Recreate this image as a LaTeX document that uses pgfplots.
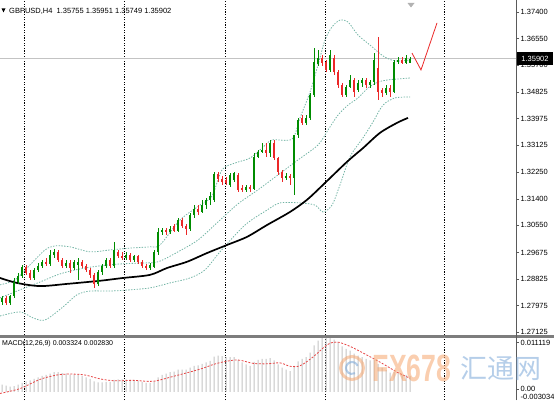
\documentclass[border=0pt]{standalone}
\usepackage{pgfplots}
\pgfplotsset{compat=1.18}
\usepackage{pgfplotstable}
\usepackage{fontspec}
\setmainfont{Liberation Sans}
\newfontfamily\cjk{Noto Sans CJK SC}
\definecolor{cgreen}{RGB}{0,140,0}
\definecolor{cred}{RGB}{235,40,40}
\definecolor{bband}{RGB}{115,180,165}
\definecolor{pline}{RGB}{195,195,195}
\definecolor{histc}{RGB}{195,195,195}
\definecolor{sig}{RGB}{230,70,70}
\definecolor{axgray}{RGB}{90,90,90}
\definecolor{sepgray}{RGB}{125,125,125}
\definecolor{wmorange}{RGB}{245,165,110}
\definecolor{wmblue}{RGB}{120,165,215}

\pgfplotstableread{
x o h l c
2 1.2809 1.2828 1.2799 1.2822
6 1.2822 1.2828 1.2799 1.2806
10 1.2806 1.2832 1.2799 1.2828
14 1.2828 1.2886 1.2822 1.2873
18 1.2873 1.2902 1.2867 1.2893
22 1.2893 1.2928 1.2886 1.2921
26 1.2921 1.2928 1.2896 1.2902
30 1.2902 1.2912 1.2880 1.2886
34 1.2886 1.2918 1.2880 1.2912
38 1.2912 1.2934 1.2905 1.2925
42 1.2925 1.2944 1.2918 1.2938
46 1.2938 1.2950 1.2925 1.2931
50 1.2931 1.2976 1.2925 1.2960
54 1.2960 1.2979 1.2950 1.2970
58 1.2970 1.2976 1.2938 1.2944
62 1.2944 1.2950 1.2918 1.2925
66 1.2925 1.2944 1.2918 1.2934
70 1.2934 1.2944 1.2902 1.2918
74 1.2918 1.2944 1.2912 1.2938
78 1.2928 1.2950 1.2880 1.2938
82 1.2938 1.2944 1.2918 1.2925
86 1.2925 1.2931 1.2905 1.2912
90 1.2912 1.2918 1.2886 1.2896
94 1.2896 1.2902 1.2854 1.2867
98 1.2867 1.2912 1.2860 1.2905
102 1.2905 1.2931 1.2896 1.2925
106 1.2925 1.2950 1.2918 1.2944
110 1.2944 1.2950 1.2918 1.2925
114 1.2925 1.3002 1.2918 1.2976
118 1.2970 1.2976 1.2950 1.2957
122 1.2957 1.2970 1.2944 1.2950
126 1.2950 1.2970 1.2944 1.2960
130 1.2960 1.2966 1.2938 1.2944
134 1.2944 1.2960 1.2938 1.2957
138 1.2957 1.2960 1.2931 1.2938
142 1.2938 1.2944 1.2918 1.2925
146 1.2925 1.2931 1.2912 1.2918
150 1.2918 1.2934 1.2912 1.2928
154 1.2921 1.2976 1.2918 1.2970
158 1.2970 1.3047 1.2960 1.3034
162 1.3034 1.3047 1.3024 1.3040
166 1.3040 1.3047 1.3024 1.3034
170 1.3034 1.3053 1.3027 1.3043
174 1.3053 1.3059 1.3034 1.3037
178 1.3037 1.3079 1.3034 1.3072
182 1.3072 1.3079 1.3047 1.3053
186 1.3053 1.3059 1.3024 1.3043
190 1.3043 1.3095 1.3037 1.3088
194 1.3088 1.3120 1.3079 1.3108
198 1.3108 1.3120 1.3088 1.3098
202 1.3098 1.3137 1.3095 1.3120
206 1.3120 1.3143 1.3108 1.3137
210 1.3137 1.3162 1.3120 1.3149
214 1.3137 1.3226 1.3130 1.3220
218 1.3220 1.3226 1.3194 1.3204
222 1.3204 1.3214 1.3185 1.3194
226 1.3201 1.3210 1.3185 1.3191
230 1.3185 1.3223 1.3178 1.3217
234 1.3201 1.3226 1.3194 1.3223
238 1.3217 1.3223 1.3162 1.3169
242 1.3175 1.3185 1.3162 1.3169
246 1.3169 1.3185 1.3162 1.3178
250 1.3178 1.3185 1.3162 1.3172
254 1.3172 1.3287 1.3169 1.3275
258 1.3275 1.3297 1.3271 1.3291
262 1.3291 1.3320 1.3287 1.3297
266 1.3297 1.3320 1.3275 1.3287
270 1.3287 1.3329 1.3275 1.3320
274 1.3320 1.3329 1.3265 1.3271
278 1.3271 1.3275 1.3217 1.3226
282 1.3226 1.3233 1.3194 1.3207
286 1.3207 1.3223 1.3201 1.3214
290 1.3214 1.3220 1.3185 1.3207
294 1.3207 1.3345 1.3153 1.3345
298 1.3345 1.3400 1.3336 1.3393
302 1.3400 1.3409 1.3377 1.3384
306 1.3384 1.3409 1.3377 1.3400
310 1.3400 1.3480 1.3393 1.3474
314 1.3474 1.3624 1.3467 1.3580
318 1.3573 1.3618 1.3567 1.3592
322 1.3592 1.3602 1.3567 1.3576
326 1.3580 1.3586 1.3547 1.3554
330 1.3554 1.3618 1.3547 1.3602
334 1.3592 1.3602 1.3538 1.3547
338 1.3547 1.3554 1.3496 1.3506
342 1.3506 1.3512 1.3467 1.3474
346 1.3474 1.3506 1.3467 1.3499
350 1.3499 1.3538 1.3496 1.3522
354 1.3522 1.3528 1.3467 1.3483
358 1.3490 1.3522 1.3483 1.3512
362 1.3512 1.3528 1.3499 1.3522
366 1.3522 1.3528 1.3496 1.3506
370 1.3506 1.3522 1.3496 1.3515
374 1.3515 1.3608 1.3506 1.3586
378 1.3560 1.3660 1.3457 1.3483
382 1.3490 1.3496 1.3467 1.3480
386 1.3480 1.3506 1.3474 1.3496
390 1.3496 1.3506 1.3467 1.3483
394 1.3483 1.3586 1.3480 1.3580
398 1.3580 1.3596 1.3573 1.3586
402 1.3586 1.3596 1.3573 1.3576
406 1.3576 1.3602 1.3573 1.3592
410 1.35755 1.35951 1.35749 1.35902
}\candles

\pgfplotstableread{
x y
0 1.2864
15 1.2880
30 1.2928
45 1.2976
55 1.2989
70 1.2986
90 1.2970
110 1.2976
130 1.2982
150 1.2986
160 1.2992
180 1.3072
200 1.3120
212 1.3149
222 1.3233
235 1.3255
250 1.3271
262 1.3303
272 1.3329
292 1.3332
300 1.3400
310 1.3483
318 1.3570
325 1.3650
332 1.3692
340 1.3714
348 1.3708
358 1.3666
370 1.3634
383 1.3599
395 1.3583
410 1.3586
}\bbup

\pgfplotstableread{
x y
0 1.2822
20 1.2848
40 1.2873
60 1.2899
80 1.2915
100 1.2925
120 1.2931
140 1.2934
158 1.2938
178 1.2970
198 1.3008
218 1.3066
238 1.3124
258 1.3169
278 1.3217
298 1.3265
318 1.3313
328 1.3361
338 1.3409
348 1.3441
358 1.3464
368 1.3496
378 1.3515
388 1.3522
398 1.3525
410 1.3528
}\bbmid

\pgfplotstableread{
x y
0 1.2764
20 1.2777
33 1.2758
45 1.2751
63 1.2793
77 1.2832
90 1.2844
110 1.2844
130 1.2848
150 1.2854
170 1.2870
190 1.2886
205 1.2912
220 1.2970
245 1.3056
267 1.3104
280 1.3127
300 1.3127
315 1.3120
323 1.3098
332 1.3120
340 1.3185
350 1.3275
363 1.3336
373 1.3387
383 1.3441
395 1.3464
410 1.3467
}\bblow

\pgfplotstableread{
x y
0 1.2886
17 1.2870
40 1.2860
67 1.2867
100 1.2877
123 1.2886
150 1.2896
167 1.2918
187 1.2938
207 1.2966
227 1.2992
247 1.3018
267 1.3056
290 1.3098
307 1.3137
323 1.3185
347 1.3259
363 1.3303
380 1.3352
397 1.3384
408 1.3400
}\matable

\pgfplotstableread{
x y
2 0.0015
6 0.0013
10 0.0011
14 0.0012
18 0.0015
22 0.0019
26 0.0022
30 0.0024
34 0.0027
38 0.0030
42 0.0033
46 0.0035
50 0.0038
54 0.0041
58 0.0041
62 0.0039
66 0.0038
70 0.0036
74 0.0036
78 0.0035
82 0.0033
86 0.0030
90 0.0027
94 0.0022
98 0.0020
102 0.0020
106 0.0021
110 0.0021
114 0.0025
118 0.0026
122 0.0026
126 0.0026
130 0.0025
134 0.0025
138 0.0023
142 0.0021
146 0.0019
150 0.0019
154 0.0022
158 0.0030
162 0.0035
166 0.0038
170 0.0041
174 0.0042
178 0.0046
182 0.0046
186 0.0046
190 0.0050
194 0.0054
198 0.0055
202 0.0058
206 0.0061
210 0.0064
214 0.0073
218 0.0075
222 0.0074
226 0.0072
230 0.0072
234 0.0072
238 0.0066
242 0.0061
246 0.0057
250 0.0054
254 0.0062
258 0.0066
262 0.0068
266 0.0068
270 0.0070
274 0.0065
278 0.0057
282 0.0050
286 0.0046
290 0.0043
294 0.0054
298 0.0063
302 0.0068
306 0.0072
310 0.0081
314 0.0096
318 0.0106
322 0.0111
326 0.0111
330 0.0112
334 0.0108
338 0.0102
342 0.0094
346 0.0089
350 0.0085
354 0.0079
358 0.0075
362 0.0072
366 0.0068
370 0.0065
374 0.0066
378 0.0058
382 0.0050
386 0.0045
390 0.0040
394 0.0041
398 0.0039
402 0.0036
406 0.0035
410 0.003324
}\machist

\pgfplotstableread{
x y
0 -0.0003
20 0.0007
40 0.0026
57 0.0035
70 0.0037
85 0.0035
100 0.0027
115 0.0023
133 0.0024
153 0.0022
173 0.0032
200 0.0047
217 0.0059
237 0.0066
253 0.0059
267 0.0058
280 0.0060
290 0.0053
300 0.0054
313 0.0072
327 0.0097
337 0.0103
350 0.0094
367 0.0076
383 0.0058
397 0.0041
410 0.00283
}\macsig

\newcommand\lbl{\fontsize{7.5}{8}\selectfont}

\begin{document}
\begin{tikzpicture}[x=1pt,y=1pt]
\useasboundingbox (0pt,0pt) rectangle (554pt,400pt);
\begin{axis}[
  at={(0pt,65pt)}, anchor=south west, scale only axis,
  width=516pt, height=335pt,
  xmin=0, xmax=516, ymin=1.27029, ymax=1.37785,
  axis x line*=bottom, axis y line*=right,
  x axis line style={draw=none},
  y axis line style={-, draw=axgray, line width=0.8pt},
  xtick={24,124,225,325,444}, xticklabels={}, xmajorgrids,
  major x tick style={draw=none},
  grid style={black, line width=0.6pt, dash pattern=on 1.3pt off 1.3pt},
  ytick={1.37400,1.36550,1.35700,1.34825,1.33975,1.33125,1.32250,1.31400,1.30550,1.29675,1.28825,1.27975,1.27125},
  yticklabels={1.37400,1.36550,1.35700,1.34825,1.33975,1.33125,1.32250,1.31400,1.30550,1.29675,1.28825,1.27975,1.27125},
  tick align=outside, major tick length=3pt,
  major y tick style={axgray, line width=0.6pt},
  yticklabel style={font=\lbl, text=black, inner sep=1.5pt},
  unbounded coords=discard,
]
\addplot[pline, line width=0.8pt] coordinates {(0,1.35902) (516,1.35902)};
\addplot[bband, line width=0.8pt, dash pattern=on 1.4pt off 1.4pt, smooth] table[x=x,y=y] {\bbup};
\addplot[bband, line width=0.8pt, dash pattern=on 1.4pt off 1.4pt, smooth] table[x=x,y=y] {\bbmid};
\addplot[bband, line width=0.8pt, dash pattern=on 1.4pt off 1.4pt, smooth] table[x=x,y=y] {\bblow};
\addplot[black, line width=1.7pt, smooth] table[x=x,y=y] {\matable};
% wicks
\addplot[draw=none, mark=none, error bars/.cd, y dir=both, y explicit, error mark=none,
  error bar style={cgreen, line width=0.9pt}]
  table[x=x, y expr={\thisrow{c}>=\thisrow{o} ? (\thisrow{h}+\thisrow{l})/2 : nan},
        y error expr={(\thisrow{h}-\thisrow{l})/2}] {\candles};
\addplot[draw=none, mark=none, error bars/.cd, y dir=both, y explicit, error mark=none,
  error bar style={cred, line width=0.9pt}]
  table[x=x, y expr={\thisrow{c}<\thisrow{o} ? (\thisrow{h}+\thisrow{l})/2 : nan},
        y error expr={(\thisrow{h}-\thisrow{l})/2}] {\candles};
% bodies
\addplot[draw=none, mark=none, error bars/.cd, y dir=both, y explicit, error mark=none,
  error bar style={cgreen, line width=2.7pt}]
  table[x=x, y expr={\thisrow{c}>=\thisrow{o} ? (\thisrow{o}+\thisrow{c})/2 : nan},
        y error expr={max(abs(\thisrow{c}-\thisrow{o})/2,0.00013)}] {\candles};
\addplot[draw=none, mark=none, error bars/.cd, y dir=both, y explicit, error mark=none,
  error bar style={cred, line width=2.7pt}]
  table[x=x, y expr={\thisrow{c}<\thisrow{o} ? (\thisrow{o}+\thisrow{c})/2 : nan},
        y error expr={max(abs(\thisrow{c}-\thisrow{o})/2,0.00013)}] {\candles};
\addplot[cred, line width=0.8pt] coordinates {(412,1.3608) (421,1.3554) (437,1.3705)};
\end{axis}

\begin{axis}[
  at={(0pt,0pt)}, anchor=south west, scale only axis,
  width=516pt, height=62pt,
  xmin=0, xmax=516, ymin=-0.00165, ymax=0.011119,
  axis x line*=bottom, axis y line*=right,
  x axis line style={draw=none},
  y axis line style={-, draw=axgray, line width=0.8pt},
  xtick={24,124,225,325,444}, xticklabels={}, xmajorgrids,
  major x tick style={draw=none},
  grid style={black, line width=0.6pt, dash pattern=on 1.3pt off 1.3pt},
  ytick=\empty,
]
\addplot[ybar, bar width=1pt, fill=histc, draw=none] table[x=x,y=y] {\machist};
\addplot[sig, line width=0.8pt, dash pattern=on 2pt off 1.5pt, smooth] table[x=x,y=y] {\macsig};
\end{axis}

% separator
\draw[sepgray, line width=2.5pt] (0pt,63.5pt) -- (554pt,63.5pt);
\draw[axgray, line width=0.8pt] (516pt,0pt) -- (516pt,65pt);
% MACD scale labels
\draw[axgray, line width=0.6pt] (516pt,58pt) -- (519pt,58pt);
\draw[axgray, line width=0.6pt] (516pt,11pt) -- (519pt,11pt);
\node[anchor=west, font=\lbl, inner sep=1.5pt] at (519pt,57pt) {0.011119};
\node[anchor=west, font=\lbl, inner sep=1.5pt] at (519pt,11pt) {0.00};
\node[anchor=west, font=\lbl, inner sep=1.5pt] at (519pt,3pt) {-0.003034};
% current price box
\fill[black] (517pt,335pt) rectangle (553pt,347.5pt);
\node[text=white, font=\lbl, inner sep=0pt] at (535pt,341.2pt) {1.35902};
% title
\fill[black] (1.5pt,391.5pt) -- (5.5pt,391.5pt) -- (3.5pt,387.5pt) -- cycle;
\node[anchor=west, font=\lbl, inner sep=0pt] at (9pt,389pt) {GBPUSD,H4\ \ 1.35755 1.35951 1.35749 1.35902};
\fill[gray!60] (407.5pt,397pt) -- (414.5pt,397pt) -- (411pt,392.5pt) -- cycle;
\node[anchor=west, font=\fontsize{7}{8}\selectfont, inner sep=0pt] at (2pt,56pt) {MACD(12,26,9) 0.003324 0.002830};
% watermark
\begin{scope}[opacity=0.55]
\draw[wmorange, line width=3pt] (352pt,32pt) circle (11.5pt);
\draw[wmblue, line width=2pt] (352pt,32pt) ++(20:6pt) arc (20:300:6pt);
\node[text=wmorange, inner sep=0pt] at (412pt,32pt) {\scalebox{0.7}[1]{\fontsize{38}{38}\selectfont\bfseries FX678}};
\node[text=wmblue, inner sep=0pt] at (501pt,31pt) {\cjk\fontsize{27}{27}\selectfont 汇通网};
\end{scope}
\end{tikzpicture}
\end{document}
